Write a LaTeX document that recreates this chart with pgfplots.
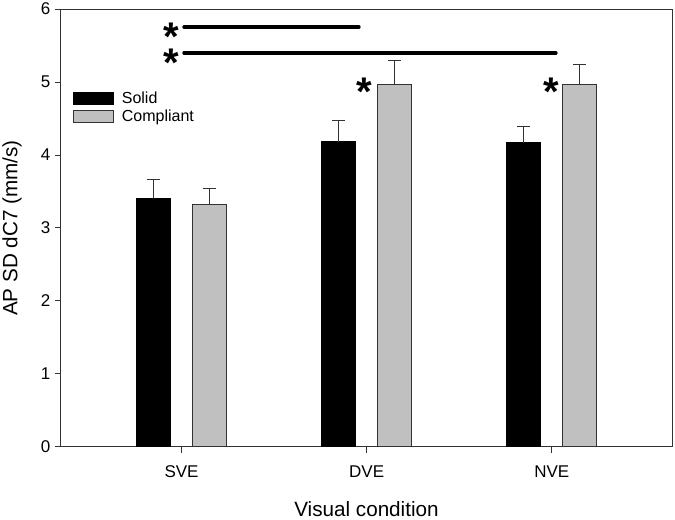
\documentclass[border=0pt]{standalone}
\usepackage{pgfplots}
\pgfplotsset{compat=1.18}
\usepackage{fontspec}
\setmainfont{Liberation Sans}
\definecolor{cgrey}{RGB}{192,192,192}
\definecolor{axgrey}{RGB}{50,50,50}
\tikzset{sigstar/.style={font=\fontsize{30}{30}\selectfont\bfseries, inner sep=0pt, text height=5.5pt, text depth=5.5pt}}
\newcommand{\sstar}{\raisebox{-17pt}{*}}
\begin{document}
\begin{tikzpicture}
\useasboundingbox (-45.75pt,-54.75pt) rectangle (460.5pt,335.25pt);
\begin{axis}[
  scale only axis,
  width=458.25pt, height=328.5pt,
  xmin=0.349, xmax=3.649,
  ymin=0, ymax=6,
  xtick={1,2,3}, xticklabels={SVE,DVE,NVE},
  ytick={0,1,2,3,4,5,6},
  tick align=outside,
  xtick pos=bottom, ytick pos=left,
  major tick length=4.5pt,
  tick style={axgrey, line width=0.75pt},
  axis line style={axgrey, line width=0.75pt},
  /pgf/number format/assume math mode=true,
  tick label style={font=\fontsize{12.75}{15}\selectfont},
  xticklabel style={yshift=-6pt},
  label style={font=\fontsize{15.5}{18}\selectfont},
  xlabel={Visual condition},
  ylabel={AP SD dC7 (mm/s)},
  xlabel style={at={(axis description cs:0.5,-0.1416)}, anchor=center},
  ylabel style={at={(axis description cs:-0.0802,0.5)}, anchor=center, rotate=0},
  legend style={at={(axis description cs:0.019,0.815)}, anchor=north west,
    draw=none, fill=none, inner sep=0pt, row sep=1.5pt,
    font=\fontsize{12}{14}\selectfont,
    nodes={inner sep=1pt}},
  legend cell align=left,
  legend image code/.code={\draw[#1] (0pt,-4.5pt) rectangle (30pt,4.5pt); \path (35pt,0pt);},
]
\addplot[ybar, bar width=25.5pt, bar shift=0pt, fill=black, draw=black, line width=0.6pt,
  error bars/.cd, y dir=plus, y explicit, error mark=-,
  error bar style={axgrey, line width=0.9pt},
  error mark options={axgrey, rotate=90, mark size=4.9pt, line width=0.9pt}]
  coordinates {(0.849,3.41) +- (0,0.25) (1.849,4.18) +- (0,0.29) (2.849,4.17) +- (0,0.22)};
\addlegendentry{Solid}
\addplot[ybar, bar width=25.5pt, bar shift=0pt, fill=cgrey, draw=axgrey, line width=0.75pt,
  error bars/.cd, y dir=plus, y explicit, error mark=-,
  error bar style={axgrey, line width=0.9pt},
  error mark options={axgrey, rotate=90, mark size=4.9pt, line width=0.9pt}]
  coordinates {(1.151,3.32) +- (0,0.22) (2.151,4.97) +- (0,0.33) (3.151,4.97) +- (0,0.27)};
\addlegendentry{Compliant}
\addplot[black, line width=2.6pt, line cap=round, forget plot] coordinates {(1.0135,5.754) (1.958,5.754)};
\addplot[black, line width=2.6pt, line cap=round, forget plot] coordinates {(1.0135,5.40) (3.022,5.40)};
\node[sigstar] at (axis cs:0.942,5.74) {\sstar};
\node[sigstar] at (axis cs:0.942,5.39) {\sstar};
\node[sigstar] at (axis cs:1.989,4.99) {\sstar};
\node[sigstar] at (axis cs:2.999,4.99) {\sstar};
\end{axis}
\end{tikzpicture}
\end{document}
